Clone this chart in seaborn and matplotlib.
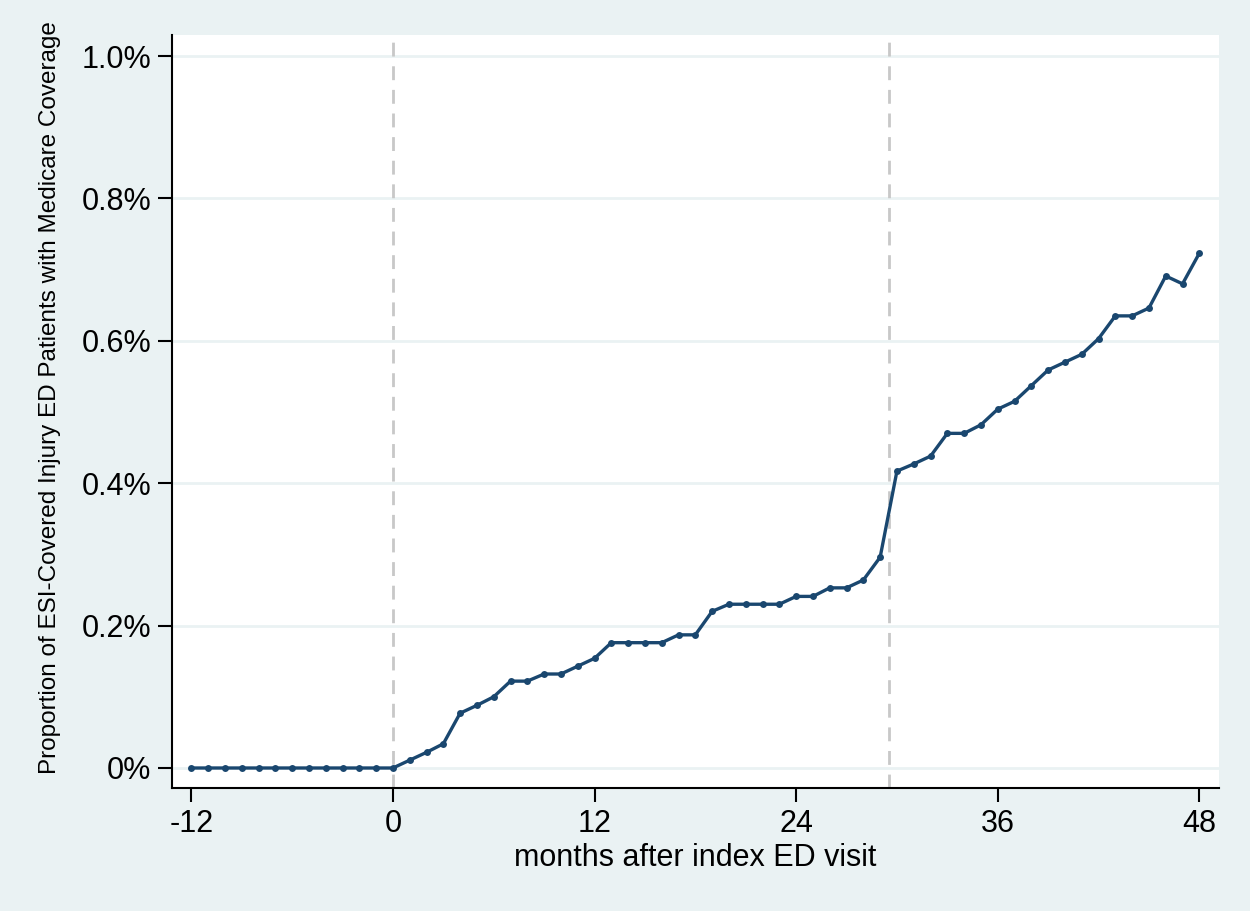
import numpy as np
import pandas as pd
import matplotlib
matplotlib.use("Agg")
import matplotlib.pyplot as plt
import seaborn as sns
from matplotlib.ticker import FuncFormatter

# months relative to index ED visit
months = list(range(-12, 49))
# proportion (%) with Medicare coverage
pct = [0.0] * 13 + [
    0.011, 0.022, 0.034, 0.077, 0.088, 0.100, 0.122, 0.122, 0.132, 0.132,
    0.143, 0.154, 0.176, 0.176, 0.176, 0.176, 0.187, 0.187, 0.220, 0.230,
    0.230, 0.230, 0.230, 0.241, 0.241, 0.253, 0.253, 0.264, 0.296, 0.417,
    0.427, 0.438, 0.470, 0.470, 0.482, 0.504, 0.515, 0.537, 0.559, 0.570,
    0.581, 0.603, 0.635, 0.635, 0.646, 0.691, 0.680, 0.723,
]
xticks = [-12, 0, 12, 24, 36, 48]
yticks = [0.0, 0.2, 0.4, 0.6, 0.8, 1.0]
vlines = [0, 29.5]

df = pd.DataFrame({"month": months, "pct": pct})

bg = "#EAF2F3"
navy = "#1A476F"

sns.set_theme(style="white")
plt.rcParams["font.family"] = ["Liberation Sans", "DejaVu Sans"]
plt.rcParams["axes.unicode_minus"] = False
plt.rcParams["text.color"] = "black"
plt.rcParams["axes.labelcolor"] = "black"
plt.rcParams["xtick.color"] = "black"
plt.rcParams["ytick.color"] = "black"

fig = plt.figure(figsize=(12.5, 9.11), dpi=100, facecolor=bg)
ax = fig.add_axes([172 / 1250, 1 - 788 / 911, (1219 - 172) / 1250, (788 - 35) / 911])
ax.set_facecolor("white")

for y in yticks:
    ax.axhline(y, color=bg, lw=2, zorder=0)
for v in vlines:
    ax.axvline(v, color="#C8C8C8", lw=2, ls=(0, (5, 3.5)), zorder=1)

sns.lineplot(data=df, x="month", y="pct", color=navy, lw=2.4, marker="o",
             markersize=5, markeredgewidth=0, ax=ax, zorder=3)

ax.set_xlim(-13.15, 49.17)
ax.set_ylim(-0.0281, 1.0295)
ax.set_xticks(xticks)
ax.set_yticks(yticks)
ax.yaxis.set_major_formatter(FuncFormatter(lambda v, p: "0%" if v == 0 else f"{v:.1f}%"))

for s in ["top", "right"]:
    ax.spines[s].set_visible(False)
for s in ["left", "bottom"]:
    ax.spines[s].set_color("black")
    ax.spines[s].set_linewidth(1.5)

ax.tick_params(axis="both", which="major", direction="out", length=10, width=1.5,
               color="black", labelcolor="black", labelsize=22, pad=5,
               left=True, bottom=True)

ax.set_xlabel("months after index ED visit", fontsize=22, labelpad=3)
ax.set_ylabel("Proportion of ESI-Covered Injury ED Patients with Medicare Coverage",
              fontsize=17.5)
ax.yaxis.set_label_coords(-0.106, 0.518)

fig.savefig("out.png", dpi=100, facecolor=bg)
